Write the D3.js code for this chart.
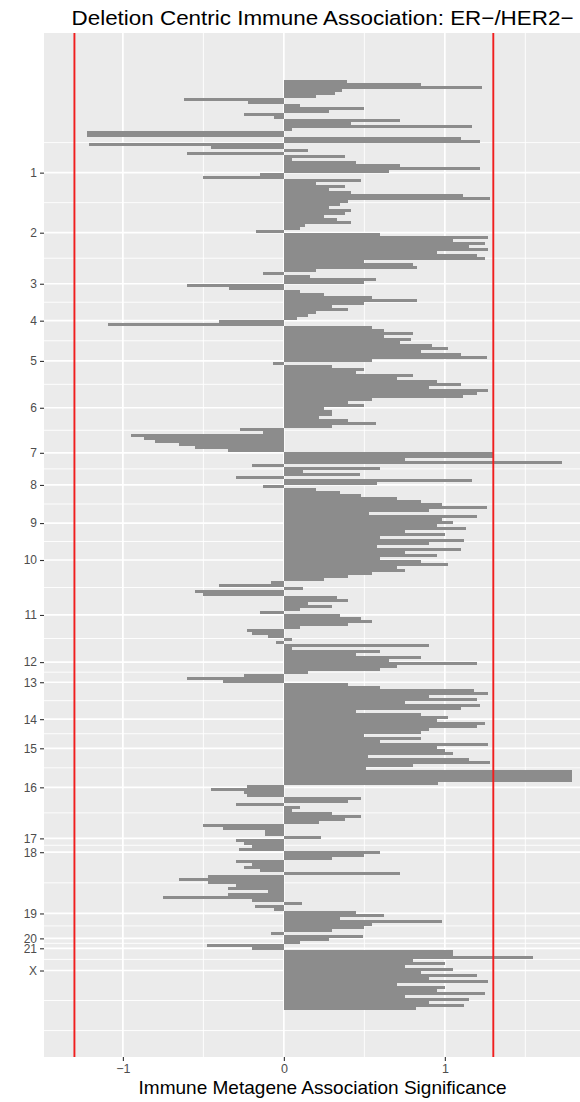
<!DOCTYPE html>
<html>
<head>
<meta charset="utf-8">
<script src="https://cdn.jsdelivr.net/npm/d3@7"></script>
<style>
  body { margin: 0; background: #fff; }
  svg { display: block; }
  text { font-family: "Liberation Sans", Arial, Helvetica, sans-serif; }
</style>
</head>
<body>
<svg id="chart" width="580" height="1102"></svg>
<script>
// Association significance per genomic bin, in genome order (chr1 at top → X at bottom)
const significance = [
  0.39, 0.85, 1.23, 0.36, 0.32, 0.2, -0.62, -0.22, 0.1, 0.5,
  0.28, -0.25, -0.06, 0.72, 0.42, 1.17, 0.05, -1.22, -1.22, 1.1,
  1.22, -1.21, -0.45, 0.15, -0.6, 0.38, 0.05, 0.45, 0.72, 1.22,
  0.65, -0.15, -0.5, 0.48, 0.2, 0.38, 0.28, 0.42, 1.11, 1.28,
  0.4, 0.35, 0.28, 0.42, 0.38, 0.25, 0.33, 0.42, 0.13, 0.1,
  -0.17, 0.6, 1.27, 1.05, 1.25, 1.15, 1.27, 0.95, 1.2, 1.25,
  0.5, 0.8, 0.83, 0.2, -0.13, 0.16, 0.57, 0.5, -0.6, -0.34,
  0.1, 0.25, 0.55, 0.83, 0.5, 0.3, 0.4, 0.2, 0.15, 0.08,
  -0.4, -1.09, 0.55, 0.62, 0.8, 0.62, 0.79, 0.72, 0.92, 1.02,
  0.85, 1.1, 1.26, 0.55, -0.07, 0.3, 0.5, 0.45, 0.8, 0.7,
  0.95, 1.1, 0.9, 1.27, 1.2, 1.11, 0.55, 0.4, 0.5, 0.25,
  0.3, 0.3, 0.22, 0.4, 0.57, 0.3, -0.27, -0.13, -0.95, -0.87,
  -0.8, -0.65, -0.55, -0.35, 1.3, 1.3, 0.75, 1.73, -0.2, 0.6,
  0.12, 0.47, -0.3, 1.17, 0.58, -0.13, 0.2, 0.35, 0.48, 0.7,
  0.85, 0.98, 1.26, 0.9, 0.53, 1.2, 0.98, 1.05, 0.95, 1.13,
  0.75, 1.0, 0.6, 1.12, 0.9, 0.58, 1.1, 0.75, 0.95, 0.6,
  0.85, 1.02, 0.7, 0.75, 0.55, 0.4, 0.25, -0.08, -0.4, 0.12,
  -0.55, -0.5, 0.33, 0.4, 0.15, 0.3, 0.1, -0.15, 0.35, 0.48,
  0.55, 0.4, 0.1, -0.23, -0.2, -0.1, 0.05, -0.05, 0.9, 0.05,
  0.6, 0.45, 0.85, 0.65, 1.2, 0.7, 0.6, 0.15, -0.25, -0.6,
  -0.38, 0.4, 0.6, 1.18, 1.27, 0.9, 1.2, 0.75, 1.22, 1.1,
  0.45, 0.85, 1.02, 0.95, 1.25, 1.2, 0.9, 0.85, 0.5, 0.85,
  0.6, 1.27, 0.95, 1.0, 1.05, 0.52, 1.15, 1.28, 0.8, 0.51,
  1.79, 1.79, 1.79, 1.79, 0.96, -0.23, -0.45, -0.25, -0.23, 0.48,
  0.4, -0.3, 0.1, 0.05, 0.3, 0.48, 0.38, 0.22, -0.5, -0.38,
  -0.12, -0.12, 0.23, -0.3, -0.25, -0.2, -0.28, 0.6, 0.5, 0.3,
  -0.3, -0.2, -0.25, -0.15, 0.72, -0.47, -0.65, -0.47, -0.3, -0.35,
  -0.1, -0.35, -0.75, -0.2, 0.11, -0.18, -0.06, 0.45, 0.62, 0.35,
  0.98, 0.55, 0.5, 0.3, -0.08, 0.49, 0.28, 0.1, -0.48, -0.2,
  1.05, 1.05, 1.55, 0.8, 1.0, 0.75, 1.05, 0.85, 1.2, 0.9,
  1.27, 0.7, 1.0, 0.95, 1.25, 0.75, 1.15, 0.9, 1.12, 0.82
];

// Chromosome labels and their positions along the bin axis
const chromLabels = ["1","2","3","4","5","6","7","8","9","10","11","12","13","14","15","16","17","18","19","20","21","X"];
const chromTicks  = [31.0, 51.0, 68.0, 80.3, 93.7, 109.3, 124.3, 135.0, 147.7, 160.0, 178.3, 194.0, 200.7, 213.0, 222.7, 235.7, 252.7, 257.3, 277.7, 286.0, 289.3, 296.7];

// Horizontal axis ticks and significance thresholds (-log10(0.05))
const xTicks = [-1, 0, 1];
const xTickLabels = ["\u22121", "0", "1"];
const xMinorTicks = [-1.5, -0.5, 0.5, 1.5];
const thresholds = [-1.301, 1.301];

const titleText = "Deletion Centric Immune Association: ER\u2212/HER2\u2212";
const xTitleText = "Immune Metagene Association Significance";

const panel = { left: 44, top: 33, right: 601, bottom: 1057 };

const svg = d3.select("#chart");

const x = d3.scaleLinear().domain([-1.49, 1.97]).range([panel.left, panel.right]);
const y = d3.scaleLinear().domain([-15.5, 325.5]).range([panel.top, panel.bottom]);

// panel background
svg.append("rect")
  .attr("x", panel.left).attr("y", panel.top)
  .attr("width", panel.right - panel.left).attr("height", panel.bottom - panel.top)
  .attr("fill", "#EBEBEB");

const grid = svg.append("g");

// minor horizontal grid: midpoints between chromosome ticks, extended one step past each end
const bd = chromTicks[1] - chromTicks[0];
const yMinor = [chromTicks[0] - bd / 2];
for (let i = 0; i < chromTicks.length - 1; i++) yMinor.push((chromTicks[i] + chromTicks[i + 1]) / 2);
const last = chromTicks[chromTicks.length - 1];
yMinor.push(last + bd / 2, last + bd);

grid.selectAll(".ymin").data(yMinor).join("line")
  .attr("x1", panel.left).attr("x2", panel.right)
  .attr("y1", d => y(d)).attr("y2", d => y(d))
  .attr("stroke", "#fff").attr("stroke-width", 0.9);

grid.selectAll(".xmin").data(xMinorTicks.filter(v => x(v) > panel.left)).join("line")
  .attr("x1", d => x(d)).attr("x2", d => x(d))
  .attr("y1", panel.top).attr("y2", panel.bottom)
  .attr("stroke", "#fff").attr("stroke-width", 0.9);

grid.selectAll(".ymaj").data(chromTicks).join("line")
  .attr("x1", panel.left).attr("x2", panel.right)
  .attr("y1", d => y(d)).attr("y2", d => y(d))
  .attr("stroke", "#fff").attr("stroke-width", 1.7);

grid.selectAll(".xmaj").data(xTicks).join("line")
  .attr("x1", d => x(d)).attr("x2", d => x(d))
  .attr("y1", panel.top).attr("y2", panel.bottom)
  .attr("stroke", "#fff").attr("stroke-width", 1.7);

// bars
svg.append("g").selectAll("rect").data(significance).join("rect")
  .attr("x", d => x(Math.min(0, d)))
  .attr("width", d => Math.abs(x(d) - x(0)))
  .attr("y", (d, i) => y(i))
  .attr("height", (d, i) => y(i + 1) - y(i))
  .attr("fill", "#8c8c8c")
  .attr("shape-rendering", "crispEdges");

// significance thresholds
svg.append("g").selectAll("line").data(thresholds).join("line")
  .attr("x1", d => x(d)).attr("x2", d => x(d))
  .attr("y1", panel.top).attr("y2", panel.bottom)
  .attr("stroke", "#f01e1e").attr("stroke-width", 1.9);

// y axis (chromosomes)
const yAxis = d3.axisLeft(y).tickValues(chromTicks)
  .tickFormat((d, i) => chromLabels[i]).tickSize(4).tickPadding(3);
const gy = svg.append("g").attr("transform", `translate(${panel.left},0)`).call(yAxis);
gy.select(".domain").remove();
gy.selectAll(".tick line").attr("stroke", "#333").attr("stroke-width", 1.1);
gy.selectAll(".tick text").attr("fill", "#4d4d4d").attr("font-size", 12)
  .attr("font-family", "Liberation Sans, Arial, sans-serif");

// x axis
const xAxis = d3.axisBottom(x).tickValues(xTicks)
  .tickFormat((d, i) => xTickLabels[i]).tickSize(4).tickPadding(3);
const gx = svg.append("g").attr("transform", `translate(0,${panel.bottom})`).call(xAxis);
gx.select(".domain").remove();
gx.selectAll(".tick line").attr("stroke", "#333").attr("stroke-width", 1.1);
gx.selectAll(".tick text").attr("fill", "#4d4d4d").attr("font-size", 12.5)
  .attr("font-family", "Liberation Sans, Arial, sans-serif");

// titles
const cx = (panel.left + panel.right) / 2;
svg.append("text")
  .attr("x", cx).attr("y", 25).attr("text-anchor", "middle")
  .attr("font-size", 20.5).attr("fill", "#000")
  .attr("textLength", 502).attr("lengthAdjust", "spacingAndGlyphs")
  .text(titleText);

svg.append("text")
  .attr("x", cx).attr("y", 1094).attr("text-anchor", "middle")
  .attr("font-size", 19).attr("fill", "#000")
  .attr("textLength", 368).attr("lengthAdjust", "spacingAndGlyphs")
  .text(xTitleText);
</script>
</body>
</html>
